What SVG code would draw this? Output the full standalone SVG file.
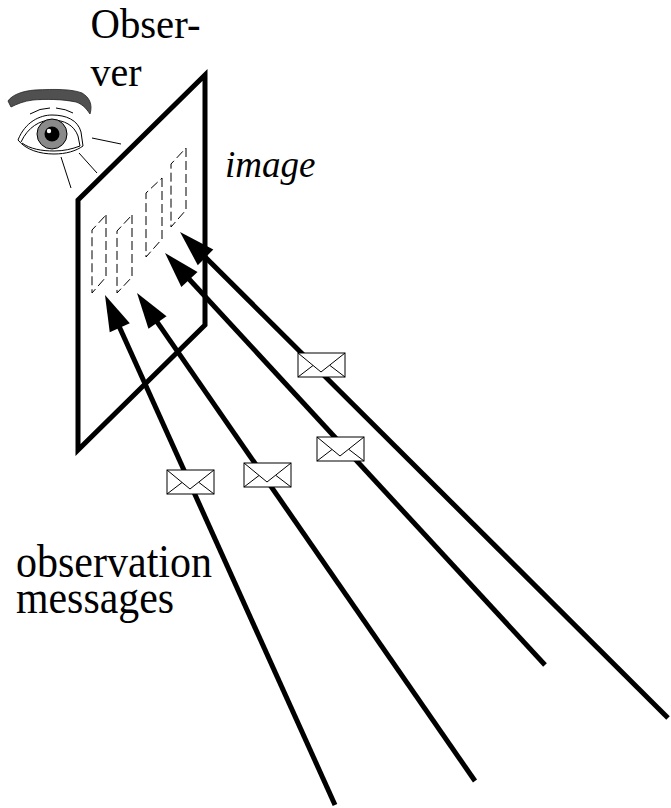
<svg xmlns="http://www.w3.org/2000/svg" width="671" height="808" viewBox="0 0 671 808">
  <style>
    .label { font-family: "Liberation Serif", "Times New Roman", serif; fill: #000; }
    .thin { fill: none; stroke: #000; stroke-width: 1; }
    .panel { fill: #fff; stroke: #000; stroke-width: 5; stroke-linejoin: miter; }
    .cell { fill: none; stroke: #000; stroke-width: 1; stroke-dasharray: 9 4; }
    .msg { stroke: #000; stroke-width: 5; fill: none; marker-end: url(#head); }
    .env { fill: #fff; stroke: #000; stroke-width: 1; }
  </style>
  <defs>
    <!-- filled arrowhead; the path vertex sits 20px behind the tip -->
    <marker id="head" markerUnits="userSpaceOnUse" viewBox="-18 -12 40 24" markerWidth="40" markerHeight="24" refX="0" refY="0" orient="auto">
      <path d="M20,0 L-16,-11 L-16,11 Z" fill="#000"/>
    </marker>
    <!-- envelope icon, 47 x 24 -->
    <g id="envelope">
      <rect class="env" x="0" y="0" width="47" height="24"/>
      <path class="thin" d="M0,0 L23,19 L47,0 M0,24 L15,12.5 M47,24 L32,12.5"/>
    </g>
  </defs>

  <rect width="671" height="808" fill="#fff"/>

  <!-- observer's eye -->
  <g id="observer">
    <path d="M8,101 C12,95 22,91 35,90 C55,89 72,89 82,93 C89,97 93,104 90,114 C86,108 82,104 76,102 C62,99 45,99 33,100 C24,101 17,104 11,107 Z" fill="#505050" stroke="#222" stroke-width="0.8"/>
    <path class="thin" d="M30,114 Q40,108 50,108 M56,108 Q66,109 73,113"/>
    <path class="thin" d="M18,140 C25,122 40,115 52,115 C66,115 78,120 81,132 L83,146"/>
    <path class="thin" d="M21,142 C28,127 40,120 52,120 C64,120 74,125 78,136 L80,146"/>
    <path class="thin" d="M18,140 C26,150 40,154 54,154 C66,154 76,151 83,146"/>
    <path class="thin" d="M22,143 C30,149 42,151 54,151 C64,151 72,149 80,146"/>
    <circle cx="52" cy="134" r="15" fill="#8a8a8a" stroke="#000" stroke-width="1"/>
    <circle cx="52" cy="134" r="7.5" fill="#000"/>
    <circle cx="49" cy="131" r="2.2" fill="#fff"/>
    <path class="thin" d="M92,138 L121,144 M79,153 L97,173 M61,157 L71,188"/>
    <text class="label" x="90.5" y="38" font-size="42" textLength="110" lengthAdjust="spacingAndGlyphs">Obser-</text>
    <text class="label" x="90.5" y="86" font-size="42" textLength="51" lengthAdjust="spacingAndGlyphs">ver</text>
  </g>

  <!-- image plane with its dashed cells -->
  <g id="image">
    <path class="panel" d="M78,200 L205,75 L205,325 L78,450 Z"/>
    <path class="cell" d="M106,215 L106,277 L92,293 L92,230 Z"/>
    <path class="cell" d="M132,215 L132,277 L117,293 L117,231 Z"/>
    <path class="cell" d="M162,178 L162,239 L146,257 L146,193 Z"/>
    <path class="cell" d="M186,148 L186,210 L171,227 L171,164 Z"/>
    <text class="label" x="225" y="177" font-size="37" font-style="italic">image</text>
  </g>

  <!-- incoming observation messages -->
  <g id="connectors">
    <line class="msg" x1="335" y1="805" x2="113.2" y2="313.2"/>
    <line class="msg" x1="475" y1="781" x2="148.4" y2="309.4"/>
    <line class="msg" x1="545" y1="665" x2="178.6" y2="267.7"/>
    <line class="msg" x1="668" y1="718" x2="194.2" y2="246.1"/>
  </g>

  <g id="messages">
    <use href="#envelope" x="167" y="470"/>
    <use href="#envelope" x="244" y="463"/>
    <use href="#envelope" x="317" y="437"/>
    <use href="#envelope" x="298" y="353"/>
    <text class="label" x="16" y="577" font-size="46" textLength="196" lengthAdjust="spacingAndGlyphs">observation</text>
    <text class="label" x="16" y="613" font-size="46" textLength="158" lengthAdjust="spacingAndGlyphs">messages</text>
  </g>
</svg>
